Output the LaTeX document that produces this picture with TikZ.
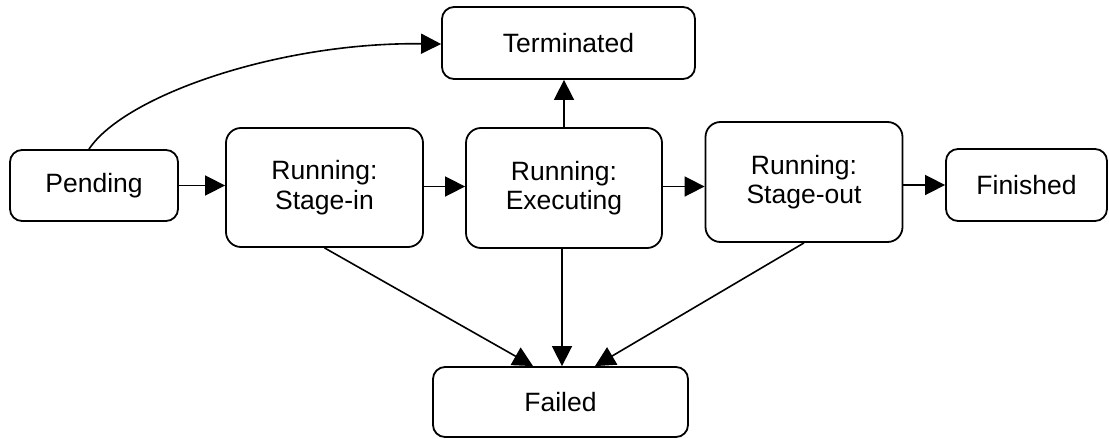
\documentclass[tikz,border=0pt]{standalone}
\usepackage{fontspec}
\setmainfont{Liberation Sans}
\usetikzlibrary{arrows.meta,calc}
\begin{document}
\begin{tikzpicture}[x=1pt,y=-1pt,
  state/.style={draw, line width=1.8pt, rounded corners=12pt, align=center,
    font=\fontsize{26.5}{29.5}\selectfont, inner sep=0pt},
  bigstate/.style={state, rounded corners=15pt},
  conn/.style={line width=1.6pt, -{Triangle[length=20pt,width=20pt]}}]
\useasboundingbox (0,0) rectangle (1109,439);
\node[state, minimum width=253pt, minimum height=72pt] (term) at (568.5,43) {Terminated};
\node[state, minimum width=168pt, minimum height=71pt] (pend) at (94,185.5) {Pending};
\node[bigstate, minimum width=197pt, minimum height=119pt] (sin) at (324.5,187.5) {Running:\\Stage-in};
\node[bigstate, minimum width=196pt, minimum height=120pt] (exe) at (564,188) {Running:\\Executing};
\node[bigstate, minimum width=197pt, minimum height=120pt] (sout) at (804,182) {Running:\\Stage-out};
\node[state, minimum width=161pt, minimum height=72pt] (fin) at (1026.5,185) {Finished};
\node[state, minimum width=255pt, minimum height=70pt] (fail) at (560.5,402) {Failed};
\draw[conn] ([xshift=-5pt]pend.north) .. controls (125,95) and (280,42) .. ([yshift=-1pt]term.west);
\draw[conn] (pend.east) -- (pend.east -| sin.west);
\draw[conn] ([yshift=1pt]sin.east) -- ([yshift=1pt]sin.east -| exe.west);
\draw[conn] ([yshift=1.5pt]exe.east) -- ([yshift=1.5pt]exe.east -| sout.west);
\draw[conn] (fin.west -| sout.east) -- (fin.west);
\draw[conn] (exe.north) -- (exe.north |- term.south);
\draw[conn] ([xshift=-2pt]exe.south) -- ([xshift=-2pt]exe.south |- fail.north);
\draw[conn] (sin.south) -- ([xshift=-27.5pt]fail.north);
\draw[conn] (sout.south) -- ([xshift=34.5pt]fail.north);
\end{tikzpicture}
\end{document}
